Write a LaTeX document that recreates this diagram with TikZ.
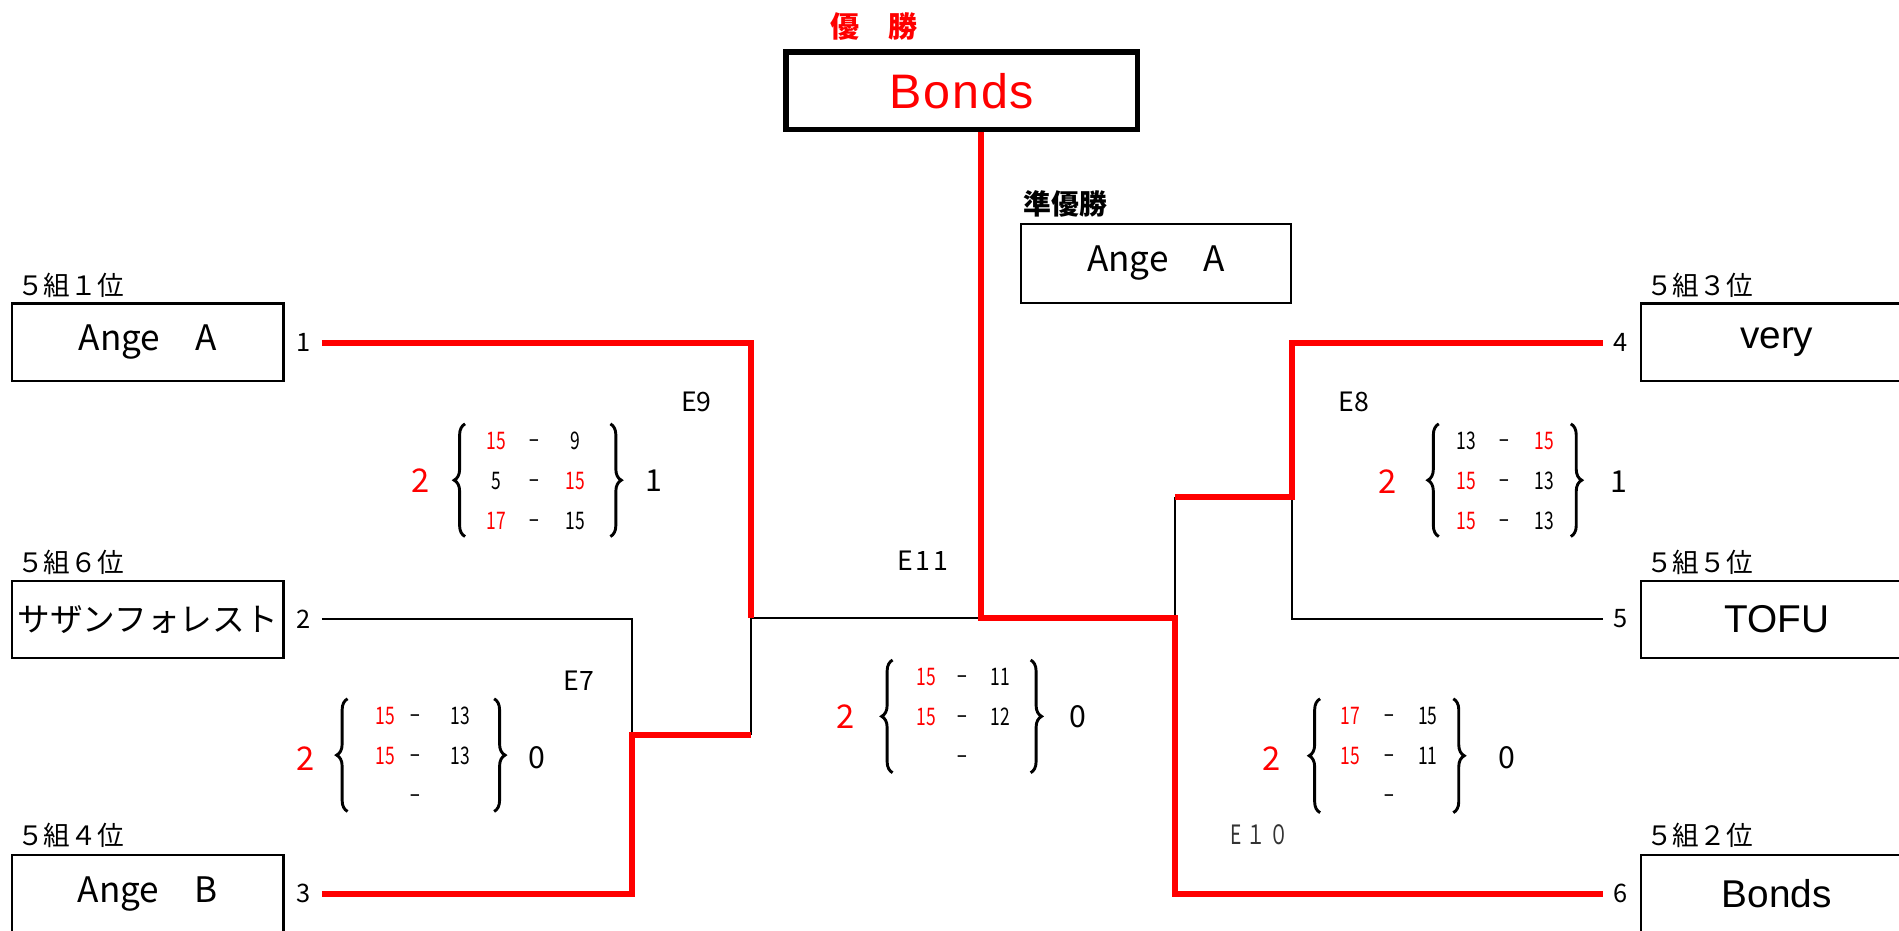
\documentclass[tikz,border=0pt]{standalone}
\usepackage{fontspec}
\setmainfont{Noto Sans CJK JP}
\newfontfamily\narrowfont[FakeStretch=0.72]{Noto Sans CJK JP}
\newfontfamily\arialfont{Liberation Sans}
\usetikzlibrary{decorations.pathreplacing}
\begin{document}
\begin{tikzpicture}[x=1pt,y=-1pt,
  team/.style={draw, line width=2pt, minimum width=224pt, minimum height=64pt, inner sep=0pt, font=\fontsize{29}{31}\selectfont},
  teamr/.style={team, font=\arialfont\fontsize{32}{34}\selectfont},
  rank/.style={anchor=west, inner sep=0pt, font=\fontsize{22}{24}\selectfont},
  seed/.style={inner sep=0pt, outer xsep=9pt, font=\fontsize{21}{23}\selectfont},
  mlabel/.style={inner sep=0pt, font=\fontsize{22}{24}\selectfont},
  sc/.style={inner sep=0pt, text height=14.5pt, text depth=0pt, font=\narrowfont\fontsize{20}{22}\selectfont},
  scw/.style={sc, text=red},
  big/.style={inner sep=0pt, text=red, font=\fontsize{27}{29}\selectfont},
  res/.style={inner sep=0pt, font=\fontsize{25}{27}\selectfont},
  brc/.style={decorate, decoration={brace, amplitude=9pt, aspect=0.5}, line width=2.4pt},
  win/.style={draw=red, line width=5pt},
  lose/.style={draw=black, line width=1.4pt},
]
\useasboundingbox (0,0) rectangle (1568,768.7);

% champion
\node[inner sep=0pt, text=red, font=\bfseries\fontsize{24}{26}\selectfont] (wintitle) at (722,22) {優　勝};
\node[draw, line width=4.5pt, minimum width=290pt, minimum height=64pt, inner sep=0pt, text=red, font=\arialfont\addfontfeature{LetterSpace=4}\fontsize{40}{42}\selectfont] (champ) at (794,75) {Bonds};
\node[inner sep=0pt, anchor=west, font=\bfseries\fontsize{23}{25}\selectfont] (runtitle) at (845,168) {準優勝};
\node[team, minimum width=223pt, minimum height=65pt] (runner) at (954.5,217.5) {Ange　A};

% left teams
\node[rank] (r1) at (14,236) {５組１位};
\node[team] (t1) at (122,282.5) {Ange　A};
\node[rank] (r2) at (14,464) {５組６位};
\node[team, font=\fontsize{27}{29}\selectfont] (t2) at (122,511.5) {サザンフォレスト};
\node[rank] (r3) at (14,690) {５組４位};
\node[team] (t3) at (122,738) {Ange　B};
\node[seed] (s1) at (251,283) {1};
\node[seed] (s2) at (251,511) {2};
\node[seed] (s3) at (251,738) {3};

% right teams
\node[rank] (r4) at (1359,236) {５組３位};
\node[teamr] (t4) at (1467,282.5) {very};
\node[rank] (r5) at (1359,464) {５組５位};
\node[teamr] (t5) at (1467,511.5) {TOFU};
\node[rank] (r6) at (1359,690) {５組２位};
\node[teamr] (t6) at (1467,738) {Bonds};
\node[seed] (s4) at (1338,283) {4};
\node[seed] (s5) at (1338,511) {5};
\node[seed] (s6) at (1338,738) {6};

% junctions
\coordinate (j7) at (522,607);
\coordinate (c7) at (620,607);
\coordinate (j9) at (620,510);
\coordinate (j11) at (810,510);
\coordinate (j10) at (970,510);
\coordinate (c8) at (970,410);
\coordinate (j8) at (1067,410);

% losing lines
\draw[lose] (s2.east) -| (j7);
\draw[lose] (c7) -- (j9) -- (j11);
\draw[lose] (j10) -- (c8);
\draw[lose] (j8) |- (s5.west);

% winning lines
\draw[win] (s1.east) -| (j9);
\draw[win] (s3.east) -| (j7) -- (c7);
\draw[win] (j11 |- champ.south) -- (j11) -- (j10) |- (s6.west);
\draw[win] (s4.west) -| (j8) -- (c8);

% match labels
\node[mlabel] (e9) at (575,332) {E9};
\node[mlabel] (e7) at (478,562) {E7};
\node[mlabel, font=\addfontfeature{LetterSpace=10}\fontsize{22}{24}\selectfont] (e11) at (762,463) {E11};
\node[mlabel] (e8) at (1118,332) {E8};
\node[mlabel, text=black!80, font=\narrowfont\addfontfeature{LetterSpace=15}\fontsize{22}{24}\selectfont] (e10) at (1040,689) {E１０};

% E9 score
\draw[brc] (384,443) -- (384,350);
\draw[brc] (504,350) -- (504,443);
\node[big] (e9w) at (347,397) {2};
\node[res] (e9l) at (540,397) {1};
\node[scw] (e9a1) at (410,364) {15}; \node[sc] (e9d1) at (441,364) {−}; \node[sc] (e9b1) at (475,364) {9};
\node[sc] (e9a2) at (410,397) {5}; \node[sc] (e9d2) at (441,397) {−}; \node[scw] (e9b2) at (475,397) {15};
\node[scw] (e9a3) at (410,430) {17}; \node[sc] (e9d3) at (441,430) {−}; \node[sc] (e9b3) at (475,430) {15};

% E7 score
\draw[brc] (287,670) -- (287,577);
\draw[brc] (408,577) -- (408,670);
\node[big] (e7w) at (252,626) {2};
\node[res] (e7l) at (443,626) {0};
\node[scw] (e7a1) at (318,591) {15}; \node[sc] (e7d1) at (343,591) {−}; \node[sc] (e7b1) at (380,591) {13};
\node[scw] (e7a2) at (318,624) {15}; \node[sc] (e7d2) at (343,624) {−}; \node[sc] (e7b2) at (380,624) {13};
\node[sc] (e7d3) at (343,657) {−};

% E11 score
\draw[brc] (737,638) -- (737,545);
\draw[brc] (851,545) -- (851,638);
\node[big] (e11w) at (698,592) {2};
\node[res] (e11l) at (890,592) {0};
\node[scw] (e11a1) at (765,559) {15}; \node[sc] (e11d1) at (795,559) {−}; \node[sc] (e11b1) at (826,559) {11};
\node[scw] (e11a2) at (765,592) {15}; \node[sc] (e11d2) at (795,592) {−}; \node[sc] (e11b2) at (826,592) {12};
\node[sc] (e11d3) at (795,625) {−};

% E8 score
\draw[brc] (1188,443) -- (1188,350);
\draw[brc] (1297,350) -- (1297,443);
\node[big] (e8w) at (1146,398) {2};
\node[res] (e8l) at (1337,398) {1};
\node[sc] (e8a1) at (1211,364) {13}; \node[sc] (e8d1) at (1242,364) {−}; \node[scw] (e8b1) at (1275,364) {15};
\node[scw] (e8a2) at (1211,397) {15}; \node[sc] (e8d2) at (1242,397) {−}; \node[sc] (e8b2) at (1275,397) {13};
\node[scw] (e8a3) at (1211,430) {15}; \node[sc] (e8d3) at (1242,430) {−}; \node[sc] (e8b3) at (1275,430) {13};

% E10 score
\draw[brc] (1090,671) -- (1090,577);
\draw[brc] (1200,577) -- (1200,671);
\node[big] (e10w) at (1050,626) {2};
\node[res] (e10l) at (1244,626) {0};
\node[scw] (e10a1) at (1115,591) {17}; \node[sc] (e10d1) at (1147,591) {−}; \node[sc] (e10b1) at (1179,591) {15};
\node[scw] (e10a2) at (1115,624) {15}; \node[sc] (e10d2) at (1147,624) {−}; \node[sc] (e10b2) at (1179,624) {11};
\node[sc] (e10d3) at (1147,657) {−};
\end{tikzpicture}
\end{document}
